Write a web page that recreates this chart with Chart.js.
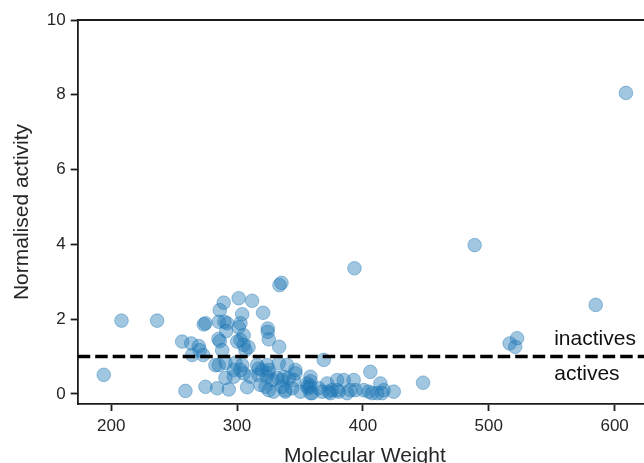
<!DOCTYPE html>
<html>
<head>
<meta charset="utf-8">
<script src="https://cdn.jsdelivr.net/npm/chart.js@4"></script>
<style>
  html, body { margin: 0; padding: 0; background: #fff; overflow: hidden; }
  #wrap { width: 644px; height: 463px; overflow: hidden; position: relative; }
  canvas { position: absolute; left: 0; top: 0; }
</style>
</head>
<body>
<div id="wrap"><canvas id="c" width="700" height="500"></canvas></div>
<script>
// ---- data ----
const xTicks = [200, 300, 400, 500, 600];
const yTicks = [0, 2, 4, 6, 8, 10];
const xRange = [173.4, 629.7];
const yRange = [-0.27, 10];
const threshold = 1;
const xLabel = 'Molecular Weight';
const yLabel = 'Normalised activity';
const inactivesLabel = 'inactives';
const activesLabel = 'actives';
const inactivesAt = [552, 1.31];
const activesAt = [552, 0.37];

const molecularWeight = [
  194.1, 208.2, 236.5, 256.4, 259.0, 264.3, 263.6, 269.6, 270.4, 273.1,
  273.6, 274.9, 274.9, 284.2, 285.5, 282.8, 286.3, 285.2, 286.3, 285.5,
  289.4, 292.1, 290.0, 291.3, 288.2, 290.8, 290.8, 293.4, 301.3, 301.3,
  302.7, 304.1, 302.7, 300.1, 305.3, 305.3, 306.7, 309.1, 298.7, 304.1,
  302.7, 297.4, 297.4, 305.3, 308.0, 310.6, 312.0, 320.7, 324.4, 324.4,
  325.2, 316.0, 317.2, 319.9, 317.0, 318.6, 322.6, 325.2, 325.2, 324.9,
  323.9, 323.9, 327.9, 329.1, 331.9, 333.7, 335.3, 333.5, 333.1, 339.8,
  335.8, 337.1, 335.8, 338.4, 338.4, 341.1, 343.8, 346.4, 346.4, 345.0,
  350.4, 355.7, 355.7, 357.0, 358.3, 358.3, 358.3, 358.3, 359.7, 364.9,
  367.6, 368.9, 371.6, 372.8, 374.2, 375.5, 379.5, 379.5, 380.8, 384.8,
  387.4, 390.1, 392.7, 394.0, 393.3, 400.6, 404.6, 405.9, 407.3, 411.3,
  413.9, 415.3, 416.5, 424.5, 447.8, 488.8, 516.6, 521.0, 522.5, 585.0,
  609.0
];
const normalisedActivity = [
  0.51, 1.96, 1.96, 1.40, 0.08, 1.04, 1.35, 1.28, 1.17, 1.04,
  1.86, 1.89, 0.19, 0.15, 0.77, 0.77, 1.41, 1.47, 2.24, 1.93,
  2.44, 1.89, 1.93, 1.68, 1.17, 0.43, 0.83, 0.12, 2.56, 1.78,
  1.89, 2.13, 1.44, 1.40, 1.31, 1.57, 1.17, 1.25, 0.83, 0.77,
  0.64, 0.64, 0.46, 0.55, 0.18, 0.46, 2.49, 2.17, 1.75, 1.66,
  1.46, 0.77, 0.68, 0.64, 0.51, 0.24, 0.19, 0.10, 0.64, 0.56,
  0.77, 0.46, 0.37, 0.06, 0.43, 2.91, 2.97, 1.26, 0.82, 0.77,
  0.37, 0.46, 0.19, 0.10, 0.06, 0.42, 0.15, 0.64, 0.55, 0.37,
  0.06, 0.28, 0.19, 0.15, 0.02, 0.46, 0.34, 0.21, 0.02, 0.15,
  0.06, 0.91, 0.28, 0.06, 0.02, 0.10, 0.37, 0.10, 0.06, 0.37,
  0.02, 0.10, 0.37, 0.10, 3.36, 0.10, 0.06, 0.59, 0.02, 0.02,
  0.28, 0.02, 0.10, 0.06, 0.30, 3.98, 1.35, 1.26, 1.49, 2.38,
  8.05
];

// ---- styles ----
const FONT = '"Liberation Sans", Arial, sans-serif';
const TEXT = '#262626';
const SPINE = '#1c1c1c';
const SPINE_W = 1.8;

const extras = {
  id: 'extras',
  afterDatasetsDraw(chart) {
    const { ctx, chartArea, scales } = chart;
    const { left, right, top } = chartArea;
    const x = scales.x, y = scales.y;
    ctx.save();
    // threshold line
    const yp = y.getPixelForValue(threshold);
    ctx.beginPath();
    ctx.setLineDash([12.5, 5]);
    ctx.lineWidth = 3.3;
    ctx.strokeStyle = '#000';
    ctx.moveTo(left, yp);
    ctx.lineTo(right, yp);
    ctx.stroke();
    ctx.setLineDash([]);
    // top & right spines
    ctx.beginPath();
    ctx.lineWidth = SPINE_W;
    ctx.strokeStyle = SPINE;
    ctx.moveTo(left - SPINE_W / 2, top);
    ctx.lineTo(right, top);
    ctx.lineTo(right, chartArea.bottom);
    ctx.stroke();
    // annotations
    ctx.font = '21px ' + FONT;
    ctx.fillStyle = '#111';
    ctx.textAlign = 'left';
    ctx.textBaseline = 'alphabetic';
    ctx.fillText(inactivesLabel, x.getPixelForValue(inactivesAt[0]), y.getPixelForValue(inactivesAt[1]));
    ctx.fillText(activesLabel, x.getPixelForValue(activesAt[0]), y.getPixelForValue(activesAt[1]));
    ctx.restore();
  }
};

const points = molecularWeight.map((mw, i) => ({ x: mw, y: normalisedActivity[i] }));

new Chart(document.getElementById('c'), {
  type: 'scatter',
  data: {
    datasets: [{
      data: points,
      pointRadius: 6.8,
      pointHoverRadius: 6.8,
      pointBackgroundColor: 'rgba(31,119,180,0.42)',
      pointBorderColor: 'rgba(31,119,180,0.42)',
      pointBorderWidth: 1
    }]
  },
  options: {
    responsive: false,
    animation: false,
    devicePixelRatio: 1,
    layout: { padding: { top: 20, right: 48, left: 0, bottom: 0 } },
    plugins: { legend: { display: false }, tooltip: { enabled: false } },
    scales: {
      x: {
        type: 'linear',
        position: 'bottom',
        min: xRange[0],
        max: xRange[1],
        afterFit: s => { s.height = 96; },
        afterBuildTicks: s => { s.ticks = xTicks.map(v => ({ value: v })); },
        border: { display: true, color: SPINE, width: SPINE_W },
        grid: { display: true, drawOnChartArea: false, drawTicks: true, tickLength: 7, tickColor: SPINE, tickWidth: SPINE_W },
        ticks: { font: { size: 17, family: FONT }, color: TEXT, padding: 5, maxRotation: 0, autoSkip: false },
        title: { display: true, text: xLabel, font: { size: 21, family: FONT }, color: TEXT, padding: { top: 0, bottom: 31.5 } }
      },
      y: {
        type: 'linear',
        position: 'left',
        min: yRange[0],
        max: yRange[1],
        afterFit: s => { s.width = 77.7; },
        afterBuildTicks: s => { s.ticks = yTicks.map(v => ({ value: v })); },
        border: { display: true, color: SPINE, width: SPINE_W },
        grid: { display: true, drawOnChartArea: false, drawTicks: true, tickLength: 7, tickColor: SPINE, tickWidth: SPINE_W },
        ticks: { font: { size: 17, family: FONT }, color: TEXT, padding: 5, autoSkip: false },
        title: { display: true, text: yLabel, font: { size: 21, family: FONT }, color: TEXT, padding: { top: 10, bottom: 0 } }
      }
    }
  },
  plugins: [extras]
});
</script>
</body>
</html>
